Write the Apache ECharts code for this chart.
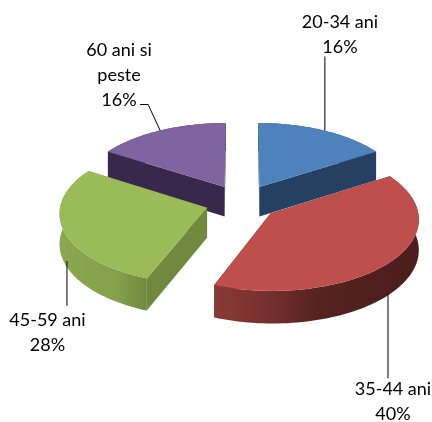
<!DOCTYPE html>
<html>
<head>
<meta charset="utf-8">
<style>html,body{margin:0;padding:0;background:#fff}#c{width:432px;height:422px}</style>
<script src="https://cdn.jsdelivr.net/npm/echarts@6/dist/echarts.min.js"></script>
</head>
<body>
<div id="c"></div>
<script>
var categories = ['20-34 ani', '35-44 ani', '45-59 ani', '60 ani si\npeste'];
var values = [16, 40, 28, 16];

var topColors = ['#4F81BD', '#BE4F4C', '#9BBB59', '#8064A2'];
var wallColors = ['#254061', '#4F1F1E', '#71893F', '#38294C'];
var rimStops = [
  [[0, '#2F5078'], [1, '#254061']],
  [[0, '#8A3A37'], [0.22, '#7A3230'], [0.5, '#562321'], [1, '#4A1D1C']],
  [[0, '#8AA84E'], [0.65, '#85A14B'], [1, '#6F8A3E']],
  [[0, '#4A3763'], [1, '#38294C']]
];
var paintOrder = [2, 4, 3, 1];
var labelCenters = [[340, 34.5], [393, 402], [47.5, 333], [119, 75]];
var leaderOffsets = [
  [[1, 0], [1, -74]],
  [[-3, 0], [-3, 85]],
  [[3.5, 0], [3.5, 45]],
  [[0, 0], [-12, -26], [-20, -26]]
];

var view = { cx: 242, cy: 202.2, f: 146.2, g: 70.4, k: 0.0689, depth: 30, explode: 0.25 };

function project(X, Y, h) {
  var s = 1 / (1 - view.k * Y);
  return [view.cx + view.f * X * s, view.cy + (view.g * Y + view.depth * h) * s];
}
function polar(a, r, ox, oy, h) {
  return project(ox + r * Math.sin(a), oy - r * Math.cos(a), h);
}

var total = values.reduce(function (a, b) { return a + b; }, 0);

function renderSlice(params, api) {
  var i = params.dataIndex;
  var before = 0;
  for (var j = 0; j < i; j++) before += values[j];
  var a0 = before / total * 2 * Math.PI;
  var a1 = (before + api.value(0)) / total * 2 * Math.PI;
  var mid = (a0 + a1) / 2;
  var ox = view.explode * Math.sin(mid), oy = -view.explode * Math.cos(mid);
  var z = paintOrder[i];

  var n = 80, topArc = [], lowArc = [];
  for (var t = 0; t <= n; t++) {
    var a = a0 + (a1 - a0) * t / n;
    topArc.push(polar(a, 1, ox, oy, 0));
    lowArc.push(polar(a, 1, ox, oy, 1));
  }
  var apexTop = project(ox, oy, 0), apexLow = project(ox, oy, 1);

  // gradient across the part of the rim that faces the viewer
  var xs = [];
  for (t = 0; t <= n; t++) {
    var b = a0 + (a1 - a0) * t / n;
    if (Math.cos(b) < 0) xs.push(topArc[t][0]);
  }
  var xMin = xs.length ? Math.min.apply(null, xs) : 0;
  var xMax = xs.length ? Math.max.apply(null, xs) : 1;
  var rimFill = new echarts.graphic.LinearGradient(xMin, 0, xMax, 0,
    rimStops[i].map(function (s) { return { offset: s[0], color: s[1] }; }), true);

  var wall = function (p, q) {
    return { type: 'polygon', z2: z, shape: { points: [apexTop, p, q, apexLow] }, style: { fill: wallColors[i] } };
  };
  var children = [
    wall(topArc[0], lowArc[0]),
    wall(topArc[n], lowArc[n]),
    { type: 'polygon', z2: z, shape: { points: topArc.concat(lowArc.slice().reverse()) }, style: { fill: rimFill } },
    { type: 'polygon', z2: z, shape: { points: [apexTop].concat(topArc) }, style: { fill: topColors[i] } }
  ];

  // leader line starts on the outer edge at the slice's middle angle
  var front = Math.cos(mid) < 0 ? 1 : 0;
  var anchor = polar(mid, 1, ox, oy, front);
  children.push({
    type: 'polyline', z2: 10,
    shape: { points: leaderOffsets[i].map(function (d) { return [anchor[0] + d[0], anchor[1] + d[1]]; }) },
    style: { fill: null, stroke: '#000', lineWidth: 1 }
  });
  children.push({
    type: 'text', z2: 11,
    style: {
      x: labelCenters[i][0], y: labelCenters[i][1],
      text: categories[i] + '\n' + Math.round(api.value(0) / total * 100) + '%',
      font: '18px Lato, "Open Sans", sans-serif', fill: '#000',
      align: 'center', verticalAlign: 'middle', lineHeight: 25
    }
  });
  return { type: 'group', children: children };
}

var chart = echarts.init(document.getElementById('c'), null, { renderer: 'canvas' });
chart.setOption({
  animation: false,
  backgroundColor: '#fff',
  series: [{
    type: 'custom',
    coordinateSystem: 'none',
    renderItem: renderSlice,
    data: values.map(function (v) { return [v]; }),
    silent: true
  }]
});
</script>
</body>
</html>
